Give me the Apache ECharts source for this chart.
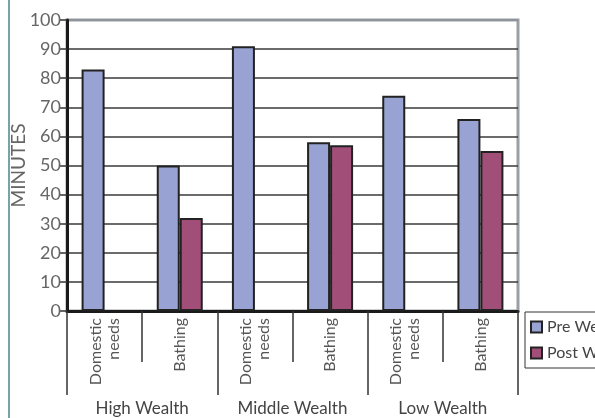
<!DOCTYPE html>
<html>
<head>
<meta charset="utf-8">
<script src="https://cdn.jsdelivr.net/npm/echarts@6/dist/echarts.min.js"></script>
<style>
  html, body { margin: 0; padding: 0; background: #fff; }
  #chart { width: 595px; height: 418px; }
</style>
</head>
<body>
<div id="chart"></div>
<script>
// Water-use activity categories, grouped by household wealth
const categories = ['Domestic\nneeds', 'Bathing', 'Domestic\nneeds', 'Bathing', 'Domestic\nneeds', 'Bathing'];
const groups = ['High Wealth', 'Middle Wealth', 'Low Wealth'];

// Minutes spent per activity
const preWet = [83, 50, 91, 58, 74, 66];
const postWet = [null, 32, null, 57, null, 55];

const seriesNames = ['Pre Wet Season', 'Post Wet Season'];
const yTicks = { min: 0, max: 100, step: 10 };

const font = 'Lato, "Open Sans", sans-serif';
const chart = echarts.init(document.getElementById('chart'), null, { renderer: 'canvas' });

// Horizontal rules: dark inside the plot, grey at the top edge
const splitColors = [];
for (let v = yTicks.min; v <= yTicks.max; v += yTicks.step) {
  splitColors.push(v === yTicks.max ? '#8a8f94' : '#3a3a3a');
}

chart.setOption({
  animation: false,
  backgroundColor: '#ffffff',
  grid: {
    left: 67, right: 77, top: 20, bottom: 107,
    outerBoundsMode: 'none',
    containLabel: false,
    show: true, borderColor: '#9aa0a6', borderWidth: 3, backgroundColor: 'transparent'
  },
  graphic: [{
    type: 'line',
    shape: { x1: 9, y1: 0, x2: 9, y2: 418 },
    style: { stroke: '#72a6a8', lineWidth: 2 },
    silent: true
  }],
  legend: {
    orient: 'vertical',
    left: 525, top: 312,
    width: 120,
    borderColor: '#333', borderWidth: 1,
    padding: [7, 60, 7, 5],
    itemGap: 10,
    itemWidth: 11, itemHeight: 11,
    icon: 'rect',
    textStyle: { fontFamily: font, fontSize: 16, color: '#444' },
    data: seriesNames
  },
  xAxis: [{
    type: 'category',
    data: categories,
    position: 'bottom',
    axisLine: { lineStyle: { color: '#1a1a1a', width: 3 } },
    axisTick: { show: true, length: 51, interval: 0, lineStyle: { color: '#333', width: 1.5 } },
    axisLabel: {
      rotate: 90, interval: 0, margin: 7,
      fontFamily: font, fontSize: 16, color: '#555', lineHeight: 18
    },
    splitLine: { show: false }
  }, {
    type: 'category',
    data: groups,
    position: 'bottom',
    axisLine: { show: false },
    axisTick: { show: true, length: 84, interval: 0, lineStyle: { color: '#333', width: 1.5 } },
    axisLabel: { margin: 89, fontFamily: font, fontSize: 17, color: '#444', interval: 0 },
    splitLine: { show: false }
  }],
  yAxis: {
    type: 'value',
    min: yTicks.min, max: yTicks.max, interval: yTicks.step,
    name: 'MINUTES',
    nameLocation: 'middle',
    nameGap: 39,
    nameMoveOverlap: false,
    nameRotate: 90,
    nameTextStyle: { fontFamily: font, fontSize: 19, color: '#666' },
    axisLine: { show: true, lineStyle: { color: '#1a1a1a', width: 3 } },
    axisTick: { show: true, length: 7, lineStyle: { color: '#333', width: 1.5 } },
    axisLabel: { fontFamily: font, fontSize: 18, color: '#666', margin: 6 },
    splitLine: { show: true, lineStyle: { color: splitColors, width: 1.5 } }
  },
  series: [{
    name: seriesNames[0],
    type: 'bar',
    data: preWet,
    barWidth: 23,
    barGap: '0%',
    itemStyle: { color: '#99a3d3', borderColor: '#222', borderWidth: 2 }
  }, {
    name: seriesNames[1],
    type: 'bar',
    data: postWet,
    barWidth: 23,
    barGap: '0%',
    itemStyle: { color: '#a14f78', borderColor: '#222', borderWidth: 2 }
  }]
});
</script>
</body>
</html>
